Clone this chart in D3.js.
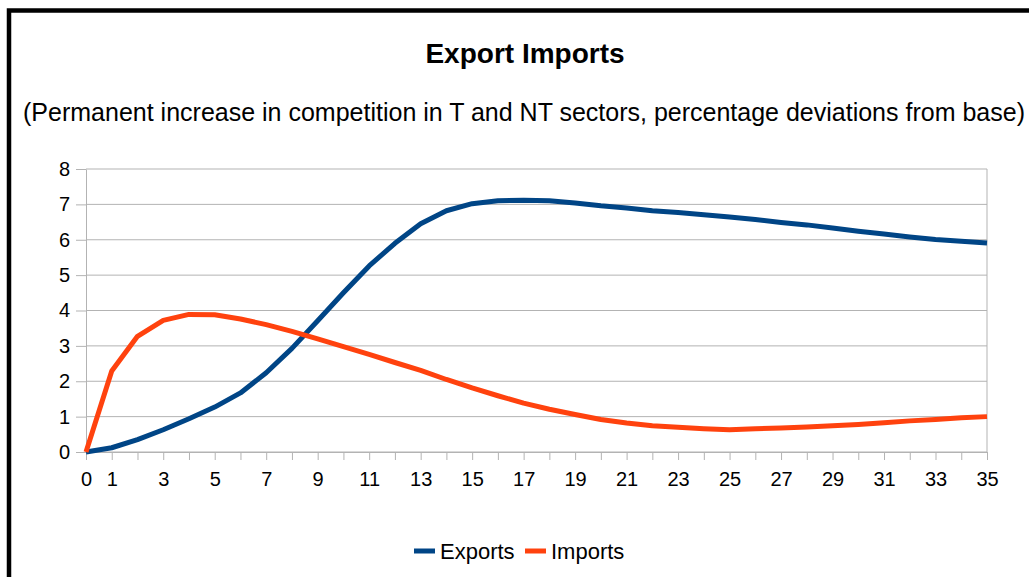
<!DOCTYPE html>
<html>
<head>
<meta charset="utf-8">
<script src="https://cdn.jsdelivr.net/npm/d3@7"></script>
<style>
  body { margin: 0; background: #fff; }
  text { font-family: "Liberation Sans", Arial, sans-serif; }
</style>
</head>
<body>
<div id="chart"></div>
<script>
// periods 0..35
const periods = d3.range(0, 36);
const exportsData = [0, 0.12, 0.35, 0.63, 0.94, 1.27, 1.67, 2.24, 2.93, 3.71, 4.5, 5.26, 5.9, 6.45,
  6.82, 7.02, 7.1, 7.12, 7.1, 7.04, 6.96, 6.9, 6.82, 6.77, 6.71, 6.64, 6.57, 6.49, 6.42, 6.33,
  6.24, 6.16, 6.08, 6.01, 5.96, 5.91];
const importsData = [0, 2.29, 3.27, 3.72, 3.89, 3.88, 3.76, 3.6, 3.41, 3.2, 2.98, 2.76, 2.53, 2.31,
  2.05, 1.81, 1.59, 1.38, 1.21, 1.06, 0.92, 0.82, 0.74, 0.7, 0.66, 0.63, 0.66, 0.68, 0.71, 0.74,
  0.78, 0.83, 0.88, 0.92, 0.97, 1.0];
const xTickLabels = [0, 1, 3, 5, 7, 9, 11, 13, 15, 17, 19, 21, 23, 25, 27, 29, 31, 33, 35];
const yTicks = [0, 1, 2, 3, 4, 5, 6, 7, 8];
const seriesNames = ["Exports", "Imports"];
const colors = ["#004586", "#ff420e"];

const W = 1029, H = 577;
const margin = { top: 169, right: 42, bottom: 125, left: 86 };
const width = W - margin.left - margin.right;
const height = H - margin.top - margin.bottom;

const root = d3.select("#chart").append("svg")
  .attr("width", W).attr("height", H);

// outer frame
root.append("rect")
  .attr("x", 9).attr("y", 10.5)
  .attr("width", W + 20).attr("height", H + 20)
  .attr("fill", "none").attr("stroke", "#000").attr("stroke-width", 4.5);

// titles
root.append("text")
  .attr("x", 525).attr("y", 63)
  .attr("text-anchor", "middle")
  .attr("font-size", 28).attr("font-weight", "bold")
  .text("Export Imports");

root.append("text")
  .attr("x", 524).attr("y", 121)
  .attr("text-anchor", "middle")
  .attr("font-size", 25)
  .text("(Permanent increase in competition in T and NT sectors, percentage deviations from base)");

const svg = root.append("g")
  .attr("transform", "translate(" + margin.left + "," + margin.top + ")");

const xScale = d3.scaleLinear().domain([0, 35]).range([0, width]);
const yScale = d3.scaleLinear().domain([0, 8]).range([height, 0]);

// gridlines
svg.append("g")
  .selectAll("line")
  .data(yTicks)
  .enter().append("line")
  .attr("x1", 0).attr("x2", width)
  .attr("y1", d => yScale(d)).attr("y2", d => yScale(d))
  .attr("stroke", "#b3b3b3").attr("stroke-width", 1);

// right border of plot area
svg.append("line")
  .attr("x1", width).attr("x2", width)
  .attr("y1", 0).attr("y2", height)
  .attr("stroke", "#b3b3b3");

// x axis
const xAxis = svg.append("g")
  .attr("transform", "translate(0," + height + ")")
  .call(d3.axisBottom(xScale).tickValues(periods).tickSize(8).tickSizeOuter(0)
    .tickFormat(d => xTickLabels.includes(d) ? d : ""));
xAxis.selectAll("line, path").attr("stroke", "#b3b3b3");
xAxis.selectAll("text")
  .attr("font-size", 20).attr("fill", "#000")
  .attr("y", 20).attr("font-family", "Liberation Sans, Arial, sans-serif");

// y axis
const yAxis = svg.append("g")
  .call(d3.axisLeft(yScale).tickValues(yTicks).tickSize(10).tickSizeOuter(0));
yAxis.selectAll("line, path").attr("stroke", "#b3b3b3");
yAxis.selectAll("text")
  .attr("font-size", 20).attr("fill", "#000")
  .attr("x", -16).attr("font-family", "Liberation Sans, Arial, sans-serif");

// lines
const line = d3.line()
  .x((d, i) => xScale(periods[i]))
  .y(d => yScale(d));

[exportsData, importsData].forEach((data, k) => {
  svg.append("path")
    .datum(data)
    .attr("fill", "none")
    .attr("stroke", colors[k])
    .attr("stroke-width", 5)
    .attr("stroke-linejoin", "round")
    .attr("d", line);
});

// legend
const legend = root.append("g").attr("transform", "translate(414,551)");
const legendX = [0, 111];
seriesNames.forEach((name, k) => {
  const g = legend.append("g").attr("transform", "translate(" + legendX[k] + ",0)");
  g.append("line")
    .attr("x1", 0).attr("x2", 21)
    .attr("stroke", colors[k]).attr("stroke-width", 5);
  g.append("text")
    .attr("x", 26).attr("y", 8)
    .attr("font-size", 22)
    .text(name);
});
</script>
</body>
</html>
